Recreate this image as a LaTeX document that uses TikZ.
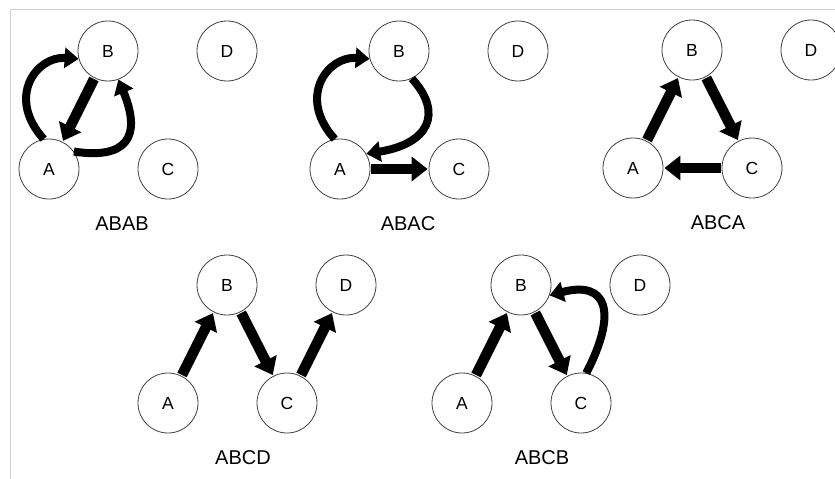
\documentclass[tikz,border=0pt]{standalone}
\usepackage{fontspec}
\setmainfont{Liberation Sans}
\usetikzlibrary{arrows.meta}

\begin{document}
\begin{tikzpicture}[x=1pt, y=1pt]
    \tikzstyle{state_style}=[circle, draw=black!75, line width=0.8pt, fill=white, minimum size=60pt, inner sep=0pt, font=\fontsize{17.5}{17.5}\selectfont]
    \tikzstyle{label_style}=[font=\fontsize{20}{20}\selectfont]
    \tikzstyle{move_style}=[line width=10.5pt, -{Triangle[width=24pt,length=16pt]}, shorten <=1pt, shorten >=1pt]
    \tikzstyle{loop_style}=[line width=8pt, -{Triangle[width=20pt,length=14pt]}]

    \useasboundingbox (0, 0) rectangle (835, -479);

    % frame
    \draw[gray!35, line width=1.2pt] (835, -9.5) -- (10.5, -9.5) -- (10.5, -479);

    % states of every sequence
    \foreach \txt/\ax/\ay/\lx in {ABAB/49/-169/122, ABAC/340/-169/408, ABCA/633/-168/718, ABCD/168/-403/243, ABCB/462/-403/542} {
      \draw node at (\ax, \ay) [state_style] (\txt_a) {A};
      \draw node at (\ax+59, \ay+118) [state_style] (\txt_b) {B};
      \draw node at (\ax+119, \ay) [state_style] (\txt_c) {C};
      \draw node at (\ax+178, \ay+118) [state_style] (\txt_d) {D};
      \draw node at (\lx, \ay-55) [label_style] (\txt_label) {\txt};
    }

    % ABAB
    \path[move_style] (ABAB_b) edge (ABAB_a);
    \draw[loop_style] (ABAB_a.100) .. controls +(-38,42) and +(-42,3) .. (ABAB_b.195);
    \draw[loop_style] (ABAB_a.35) .. controls +(52,-8) and +(24,-58) .. (ABAB_b.290);

    % ABAC
    \draw[loop_style] (ABAC_a.100) .. controls +(-38,42) and +(-42,3) .. (ABAC_b.195);
    \draw[loop_style] (ABAC_b.295) .. controls +(32,-35) and +(62,10) .. (ABAC_a.30);
    \path[move_style] (ABAC_a) edge (ABAC_c);

    % ABCA
    \path[move_style] (ABCA_a) edge (ABCA_b);
    \path[move_style] (ABCA_b) edge (ABCA_c);
    \path[move_style] (ABCA_c) edge (ABCA_a);

    % ABCD
    \path[move_style] (ABCD_a) edge (ABCD_b);
    \path[move_style] (ABCD_b) edge (ABCD_c);
    \path[move_style] (ABCD_c) edge (ABCD_d);

    % ABCB
    \path[move_style] (ABCB_a) edge (ABCB_b);
    \path[move_style] (ABCB_b) edge (ABCB_c);
    \draw[loop_style] (ABCB_c.80) .. controls +(32,62) and +(57,15) .. (ABCB_b.-20);

\end{tikzpicture}
\end{document}
